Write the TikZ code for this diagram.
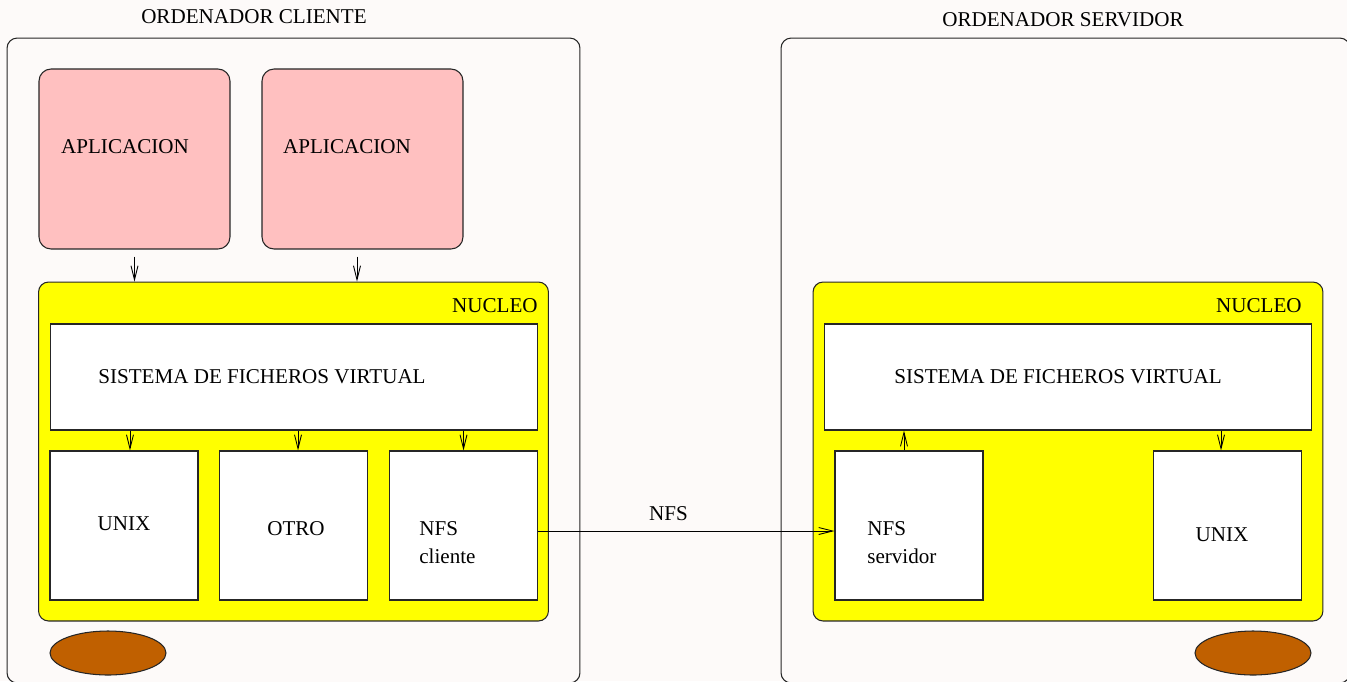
\documentclass[tikz,border=0pt]{standalone}
\usepackage{fontspec}
\setmainfont{Liberation Serif}
\usetikzlibrary{arrows.meta,calc,shapes.geometric}

\definecolor{fondo}{HTML}{FDFAF9}
\definecolor{rosa}{HTML}{FFC0C0}
\definecolor{amarillo}{HTML}{FFFF00}
\definecolor{marron}{HTML}{C06000}

\tikzset{
	caja/.style={draw=black!85, line width=0.6pt, rectangle, inner sep=0pt},
	ordenador/.style={caja, fill=fondo, rounded corners=0.2cm},
	aplic/.style={caja, fill=rosa, rounded corners=0.24cm, minimum height=3.6cm},
	nucleo/.style={caja, fill=amarillo, rounded corners=0.2cm, minimum width=10.2cm, minimum height=6.78cm},
	vfs/.style={caja, fill=white, minimum width=9.76cm, minimum height=2.12cm},
	sf/.style={caja, fill=white, minimum width=2.96cm, minimum height=2.98cm},
	disco/.style={draw=black!85, line width=0.6pt, ellipse, fill=marron, minimum width=2.32cm, minimum height=0.88cm, inner sep=0pt},
	flecha/.style={line width=0.5pt, -{Straight Barb[length=2.8mm, width=1.4mm, line width=0.5pt]}},
	txt/.style={inner sep=0pt, font=\fontsize{12}{16}\selectfont}
}

\begin{document}
\begin{tikzpicture}[x=0.02cm, y=-0.02cm]
	\fill[fondo] (0,0) rectangle (1347,681);
	\useasboundingbox (0,0) rectangle (1347,681);

	% los dos ordenadores
	\node[ordenador, minimum width=11.46cm, minimum height=12.9cm] (cli) at (293.5,360.5) {};
	\node[ordenador, minimum width=11.38cm, minimum height=12.9cm] (ser) at (1065.5,360.5) {};
	\node[txt] (clitxt) at (254,17) {ORDENADOR CLIENTE};
	\node[txt] (sertxt) at (1063,20) {ORDENADOR SERVIDOR};

	% cliente
	\node[aplic, minimum width=3.82cm] (app1) at (134.5,159) {};
	\node[aplic, minimum width=4.02cm] (app2) at (362.5,159) {};
	\node[txt] (app1txt) at (125,147) {APLICACION};
	\node[txt] (app2txt) at (347,147) {APLICACION};

	\node[nucleo] (nucC) at (293.5,451.5) {};
	\node[txt, anchor=north east] (nucCtxt) at (538,298) {NUCLEO};
	\node[vfs] (vfsC) at (294,377) {};
	\node[txt] (vfsCtxt) at (262,377) {SISTEMA DE FICHEROS VIRTUAL};

	\node[sf] (unixC) at (124,525.5) {};
	\node[sf] (otro) at (293.5,525.5) {};
	\node[sf] (nfsC) at (463.5,525.5) {};
	\node[txt] (unixCtxt) at (124,524) {UNIX};
	\node[txt] (otrotxt) at (296,529) {OTRO};
	\node[txt, anchor=west, align=left] (nfsCtxt) at (419,543) {NFS\\cliente};

	\node[disco] (discoC) at (108,653) {};

	\draw[flecha] ([yshift=-0.14cm]app1.south) -- (app1.south |- nucC.north);
	\draw[flecha] ([xshift=-0.11cm,yshift=-0.14cm]app2.south) -- ([xshift=-0.11cm]app2.south |- nucC.north);
	\foreach \b/\dx in {unixC/0.12, otro/0.09, nfsC/0}
		\draw[flecha] ([xshift=\dx cm]\b.north |- vfsC.south) -- ([xshift=\dx cm]\b.north);

	% servidor
	\node[nucleo] (nucS) at (1068,451.5) {};
	\node[txt, anchor=north east] (nucStxt) at (1302,298) {NUCLEO};
	\node[vfs] (vfsS) at (1068,377) {};
	\node[txt] (vfsStxt) at (1058,377) {SISTEMA DE FICHEROS VIRTUAL};

	\node[sf] (nfsS) at (909,525.5) {};
	\node[sf] (unixS) at (1227.5,525.5) {};
	\node[txt, anchor=west, align=left] (nfsStxt) at (867,543) {NFS\\servidor};
	\node[txt] (unixStxt) at (1222,535) {UNIX};

	\node[disco] (discoS) at (1253,653) {};

	\draw[flecha] ([xshift=-0.1cm]nfsS.north) -- ([xshift=-0.1cm]nfsS.north |- vfsS.south);
	\draw[flecha] ([xshift=-0.13cm]unixS.north |- vfsS.south) -- ([xshift=-0.13cm]unixS.north);

	% protocolo entre los dos
	\draw[flecha] ([yshift=-0.11cm]nfsC.east) -- node[txt, pos=0.44, above=0.2cm] (nfstxt) {NFS} ([yshift=-0.11cm]nfsS.west);
\end{tikzpicture}
\end{document}
